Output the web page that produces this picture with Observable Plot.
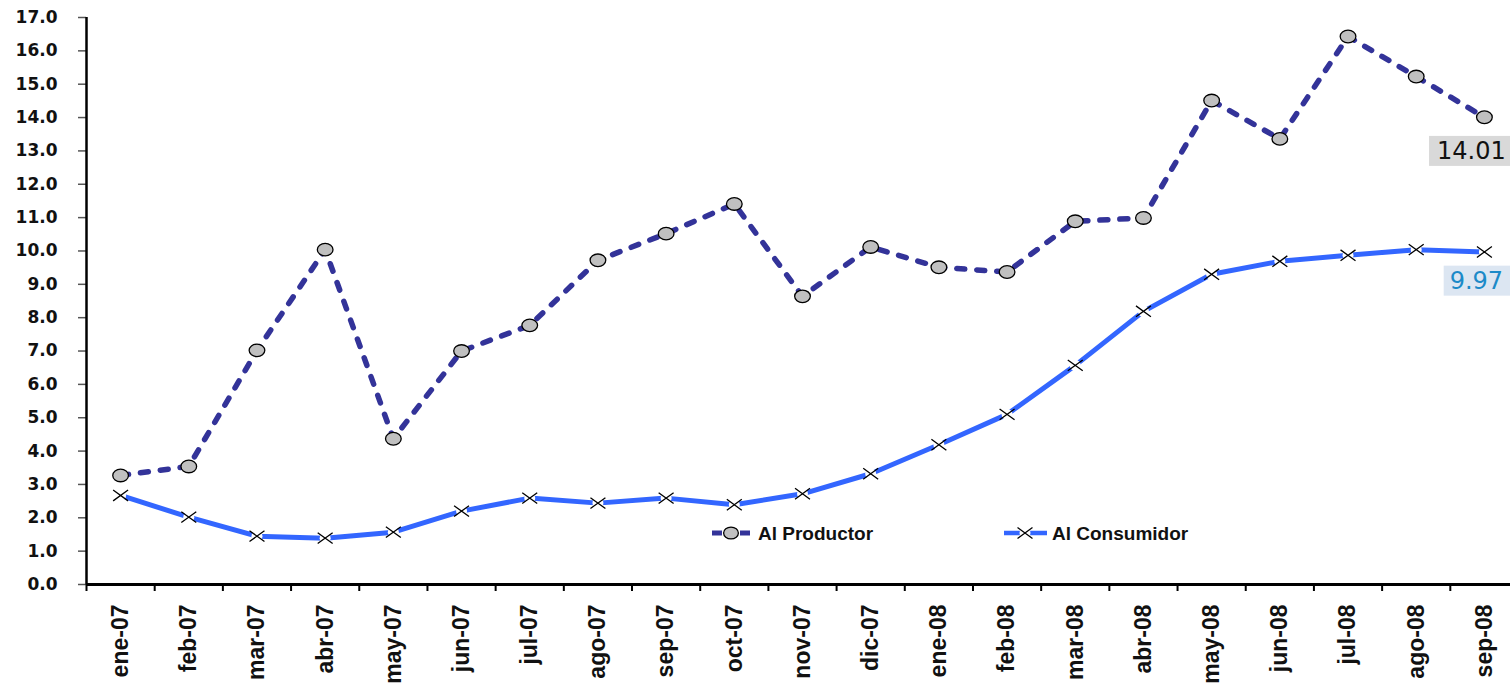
<!DOCTYPE html>
<html><head><meta charset="utf-8">
<script src="https://cdn.jsdelivr.net/npm/d3@7"></script>
<script src="https://cdn.jsdelivr.net/npm/@observablehq/plot@0.6"></script>
<style>
html,body{margin:0;padding:0;background:#fff;overflow:hidden}
#chart{position:relative;width:1510px;height:684px;overflow:hidden}
</style></head><body><div id="chart"></div>
<script>
const months = ["ene-07","feb-07","mar-07","abr-07","may-07","jun-07","jul-07","ago-07","sep-07","oct-07","nov-07","dic-07","ene-08","feb-08","mar-08","abr-08","may-08","jun-08","jul-08","ago-08","sep-08"];
const productor = [3.27,3.54,7.02,10.04,4.37,7.00,7.77,9.72,10.52,11.41,8.64,10.12,9.51,9.37,10.89,10.99,14.51,13.36,16.43,15.23,14.01];
const consumidor = [2.67,2.02,1.45,1.39,1.57,2.20,2.59,2.44,2.59,2.39,2.72,3.32,4.19,5.10,6.57,8.19,9.30,9.69,9.87,10.04,9.97];
const seriesNames = ["Al Productor","Al Consumidor"];
const yTicks = [0,1,2,3,4,5,6,7,8,9,10,11,12,13,14,15,16,17];

const data = months.map((m,i)=>({i, m, productor: productor[i], consumidor: consumidor[i]}));
const idx = months.map((_,i)=>i);
const bounds = months.map((_,i)=>i-0.5).concat([months.length-0.5]);
const last = [data[data.length-1]];
const prodLabel = last[0].productor.toFixed(2);
const consLabel = last[0].consumidor.toFixed(2);

const ellipse = { draw(ctx, size) {
  const r = Math.sqrt(size/Math.PI), rx=r*1.12, ry=r*0.9, k=0.5523;
  ctx.moveTo(rx,0);
  ctx.bezierCurveTo(rx, ry*k, rx*k, ry, 0, ry);
  ctx.bezierCurveTo(-rx*k, ry, -rx, ry*k, -rx, 0);
  ctx.bezierCurveTo(-rx, -ry*k, -rx*k, -ry, 0, -ry);
  ctx.bezierCurveTo(rx*k, -ry, rx, -ry*k, rx, 0);
  ctx.closePath();
}};
const cross = { draw(ctx, size) {
  const r = Math.sqrt(size/Math.PI), a=r*1.1, b=r*0.8;
  ctx.moveTo(-a,-b); ctx.lineTo(a,b); ctx.moveTo(-a,b); ctx.lineTo(a,-b);
}};

const chart = Plot.plot({
  width:1510, height:684,
  marginTop:17, marginBottom:100, marginLeft:86, marginRight:-8,
  style:{background:"transparent", fontFamily:"Liberation Sans, Arial, sans-serif"},
  x:{type:"linear", domain:[-0.5, months.length-0.5], axis:null, label:null},
  y:{domain:[0,17], axis:null, label:null},
  marks:[
    Plot.axisY(yTicks, {label:null, tickSize:8, tickPadding:21, tickFormat:d=>d.toFixed(1), stroke:"#555", strokeWidth:1.5, fill:"#111", fontSize:17, fontWeight:"bold", fontFamily:"DejaVu Sans"}),
    Plot.axisX(bounds, {label:null, tickSize:7, tickFormat:()=>"", stroke:"black", strokeWidth:2}),
    Plot.axisX(idx, {label:null, tickSize:0, tickPadding:20, tickRotate:-90, tickFormat:i=>months[i], fill:"#111", fontSize:23, fontWeight:"bold", fontFamily:"Liberation Sans"}),
    Plot.ruleX([-0.5], {y1:0, y2:17, stroke:"black", strokeWidth:2.5}),
    Plot.ruleY([0], {stroke:"black", strokeWidth:3}),
    Plot.line(data, {x:"i", y:"productor", stroke:"#333399", strokeWidth:5.5, strokeDasharray:"8,12", strokeLinecap:"round"}),
    Plot.line(data, {x:"i", y:"consumidor", stroke:"#3366ff", strokeWidth:5}),
    Plot.dot(data, {x:"i", y:"consumidor", r:5.5, fill:"white", stroke:"none"}),
    Plot.dot(data, {x:"i", y:"consumidor", r:6.8, symbol:cross, fill:"none", stroke:"black", strokeWidth:1.3}),
    Plot.dot(data, {x:"i", y:"productor", r:7, symbol:ellipse, fill:"#c0c0c0", stroke:"black", strokeWidth:1.3}),
    Plot.text(last, {x:"i", y:"productor", text:()=>prodLabel, dx:-13, dy:34, fontSize:24, fontFamily:"DejaVu Sans", fill:"#111"}),
    Plot.text(last, {x:"i", y:"consumidor", text:()=>consLabel, dx:-8, dy:29, fontSize:24, fontFamily:"DejaVu Sans", fill:"#1c8ac8"})
  ]
});
document.getElementById("chart").appendChild(chart);

const svg = d3.select(chart);
function boxBehind(label, fill, padL, padR, padT, padB) {
  const node = svg.selectAll("text").filter(function(){ return this.textContent === label; }).node();
  if (!node) return;
  const bb = node.getBBox();
  const r = d3.select(node.parentNode).insert("rect", () => node)
    .attr("x", bb.x-padL).attr("y", bb.y-padT)
    .attr("width", bb.width+padL+padR).attr("height", bb.height+padT+padB).attr("fill", fill);
  const tf = node.getAttribute("transform");
  if (tf) r.attr("transform", tf);
  else {
    const x = +node.getAttribute("x") || 0, y = +node.getAttribute("y") || 0;
    if (node.getAttribute("x") === null && node.getAttribute("y") === null) {}
  }
}
boxBehind(prodLabel, "#d9d9d9", 8, 10, 1, 1);
boxBehind(consLabel, "#dce6f2", 6, 10, 1, 1);

// legend
const lg = svg.append("g");
lg.append("line").attr("x1",712).attr("x2",750).attr("y1",533).attr("y2",533)
  .attr("stroke","#333399").attr("stroke-width",5).attr("stroke-dasharray","10,18,10");
lg.append("path").attr("transform","translate(731,533)")
  .attr("d", d3.symbol(ellipse, Math.PI*6.6*6.6)()).attr("fill","#c0c0c0").attr("stroke","black").attr("stroke-width",1.3);
lg.append("line").attr("x1",1004).attr("x2",1047).attr("y1",533).attr("y2",533)
  .attr("stroke","#3366ff").attr("stroke-width",4.5);
lg.append("circle").attr("cx",1025).attr("cy",533).attr("r",5.5).attr("fill","white");
lg.append("path").attr("transform","translate(1025,533)")
  .attr("d", d3.symbol(cross, Math.PI*6.8*6.8)()).attr("fill","none").attr("stroke","black").attr("stroke-width",1.3);
[[758, seriesNames[0]], [1052, seriesNames[1]]].forEach(([x, s]) => {
  lg.append("text").attr("x",x).attr("y",540).text(s)
    .style("font-family","Liberation Sans, Arial").style("font-size","19px").style("font-weight","bold")
    .style("text-anchor","start").style("fill","#111");
});
</script></body></html>
